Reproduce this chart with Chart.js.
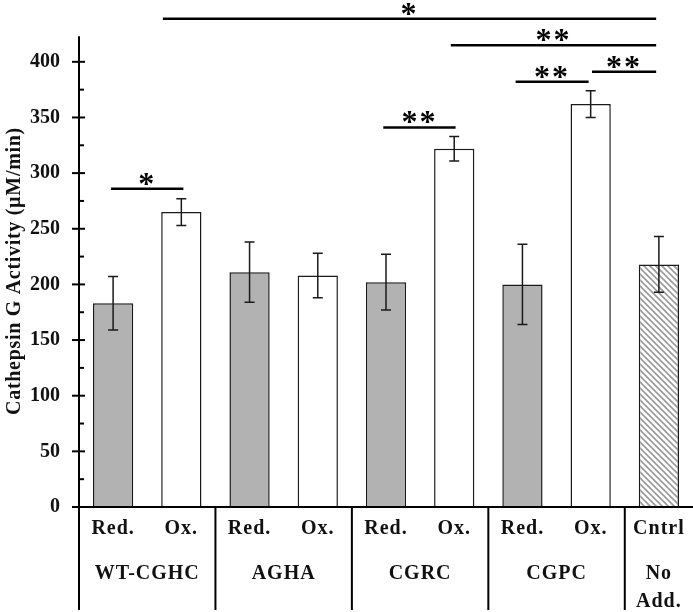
<!DOCTYPE html>
<html>
<head>
<meta charset="utf-8">
<script src="https://cdn.jsdelivr.net/npm/chart.js@4.4.1/dist/chart.umd.min.js"></script>
<style>
html,body{margin:0;padding:0;background:#fff;}
canvas{display:block;}
</style>
</head>
<body>
<canvas id="c" width="693" height="612"></canvas>
<script>
// ---- data ----
const categories = ['Red.', 'Ox.', 'Red.', 'Ox.', 'Red.', 'Ox.', 'Red.', 'Ox.', 'Cntrl'];
const groupNames = ['WT-CGHC', 'AGHA', 'CGRC', 'CGPC'];
const controlLabel = ['Cntrl', 'No', 'Add.'];
const values = [183, 265, 211, 208, 202, 322, 200, 362, 218];
const errors = [24, 12, 27, 20, 25, 11, 36, 12, 25];
const yTicks = [0, 50, 100, 150, 200, 250, 300, 350, 400];
const yTitle = 'Cathepsin G Activity (\u00b5M/min)';
// significance brackets: category-index span, data height, label
const sigFrom = [-0.03, 0.73, 4.95, 5.9, 7.02, 3.96];
const sigTo = [1.03, 7.96, 7.96, 6.97, 7.96, 5.02];
const sigY = [286, 438.6, 415, 382, 391, 341];
const sigLabel = ['*', '*', '**', '**', '**', '**'];

const FONT = '"Liberation Serif", "Times New Roman", serif';

function hatch() {
  const s = 6;
  const p = document.createElement('canvas');
  p.width = s; p.height = s;
  const g = p.getContext('2d');
  g.fillStyle = '#fff'; g.fillRect(0, 0, s, s);
  g.strokeStyle = '#9a9a9a'; g.lineWidth = 1.6;
  g.beginPath();
  g.moveTo(-1, -1); g.lineTo(s + 1, s + 1);
  g.moveTo(-1, s - 1); g.lineTo(1, s + 1);
  g.moveTo(s - 1, -1); g.lineTo(s + 1, 1);
  g.stroke();
  return document.getElementById('c').getContext('2d').createPattern(p, 'repeat');
}

const fills = categories.map((c, i) => c === 'Red.' ? '#b2b2b2' : (c === 'Ox.' ? '#ffffff' : hatch()));

const custom = {
  id: 'custom',
  afterDatasetsDraw(chart) {
    const ctx = chart.ctx;
    const xs = chart.scales.x, ys = chart.scales.y;
    const ca = chart.chartArea;
    const axisX = ca.left;
    const axisY = ys.getPixelForValue(0);
    const bottom = 610;
    ctx.save();
    // error bars
    ctx.strokeStyle = '#1a1a1a';
    ctx.lineWidth = 1.5;
    values.forEach((v, i) => {
      const x = xs.getPixelForValue(i);
      const yt = ys.getPixelForValue(v + errors[i]);
      const yb = ys.getPixelForValue(v - errors[i]);
      ctx.beginPath();
      ctx.moveTo(x, yt); ctx.lineTo(x, yb);
      ctx.moveTo(x - 5, yt); ctx.lineTo(x + 5, yt);
      ctx.moveTo(x - 5, yb); ctx.lineTo(x + 5, yb);
      ctx.stroke();
    });
    // axes
    ctx.strokeStyle = '#000';
    ctx.lineWidth = 2;
    ctx.beginPath();
    ctx.moveTo(axisX, ys.getPixelForValue(423)); ctx.lineTo(axisX, bottom);
    ctx.moveTo(axisX, axisY); ctx.lineTo(693, axisY);
    ctx.stroke();
    // ticks
    for (let v = 0; v <= 400; v += 25) {
      const y = ys.getPixelForValue(v);
      ctx.beginPath();
      if (v % 50 === 0) { ctx.moveTo(axisX - 7, y); ctx.lineTo(axisX + 6, y); }
      else { ctx.moveTo(axisX, y); ctx.lineTo(axisX + 5, y); }
      ctx.stroke();
    }
    // separators
    [1.5, 3.5, 5.5, 7.5].forEach(b => {
      const x = xs.getPixelForValue(b);
      ctx.beginPath(); ctx.moveTo(x, axisY); ctx.lineTo(x, bottom); ctx.stroke();
    });
    // category labels
    ctx.fillStyle = '#111';
    ctx.font = 'bold 20px ' + FONT;
    ctx.textAlign = 'center';
    ctx.textBaseline = 'middle';
    try { ctx.letterSpacing = '1px'; } catch (e) {}
    categories.forEach((c, i) => {
      if (i === 8) return;
      ctx.fillText(c, xs.getPixelForValue(i), 529);
    });
    groupNames.forEach((g, k) => {
      ctx.fillText(g, xs.getPixelForValue(2 * k + 0.5), 574);
    });
    const cx = xs.getPixelForValue(8);
    ctx.fillText(controlLabel[0], cx, 529);
    ctx.fillText(controlLabel[1], cx, 574);
    ctx.fillText(controlLabel[2], cx, 602);
    // y title
    ctx.save();
    ctx.translate(15, 271);
    ctx.rotate(-Math.PI / 2);
    ctx.font = 'bold 20px ' + FONT;
    try { ctx.letterSpacing = '0.7px'; } catch (e) {}
    ctx.fillText(yTitle, 0, 0);
    ctx.restore();
    // significance
    ctx.lineWidth = 2.5;
    ctx.strokeStyle = '#000';
    ctx.fillStyle = '#000';
    ctx.font = 'bold 32px ' + FONT;
    try { ctx.letterSpacing = '2px'; } catch (e) {}
    ctx.textBaseline = 'alphabetic';
    sigFrom.forEach((f, i) => {
      const x1 = xs.getPixelForValue(f), x2 = xs.getPixelForValue(sigTo[i]);
      const y = ys.getPixelForValue(sigY[i]);
      ctx.beginPath(); ctx.moveTo(x1, y); ctx.lineTo(x2, y); ctx.stroke();
      ctx.fillText(sigLabel[i], (x1 + x2) / 2, y + 5);
    });
    ctx.restore();
  }
};

new Chart(document.getElementById('c'), {
  type: 'bar',
  data: {
    labels: categories,
    datasets: [{
      data: values,
      backgroundColor: fills,
      borderColor: '#1a1a1a',
      borderWidth: 1.5,
      categoryPercentage: 1,
      barPercentage: 0.59
    }]
  },
  options: {
    responsive: false,
    animation: false,
    layout: { padding: { top: 34, bottom: 105, left: 0, right: 0 } },
    plugins: { legend: { display: false }, tooltip: { enabled: false } },
    scales: {
      x: {
        afterFit(s) { s.height = 0; },
        ticks: { display: false },
        grid: { display: false },
        border: { display: false }
      },
      y: {
        min: 0, max: 425,
        afterFit(s) { s.width = 79; },
        afterBuildTicks(s) { s.ticks = yTicks.map(v => ({ value: v })); },
        ticks: {
          padding: 19,
          color: '#111',
          font: { family: FONT, size: 20, weight: 'bold' }
        },
        grid: { display: false, drawTicks: false },
        border: { display: false }
      }
    }
  },
  plugins: [custom]
});
</script>
</body>
</html>
